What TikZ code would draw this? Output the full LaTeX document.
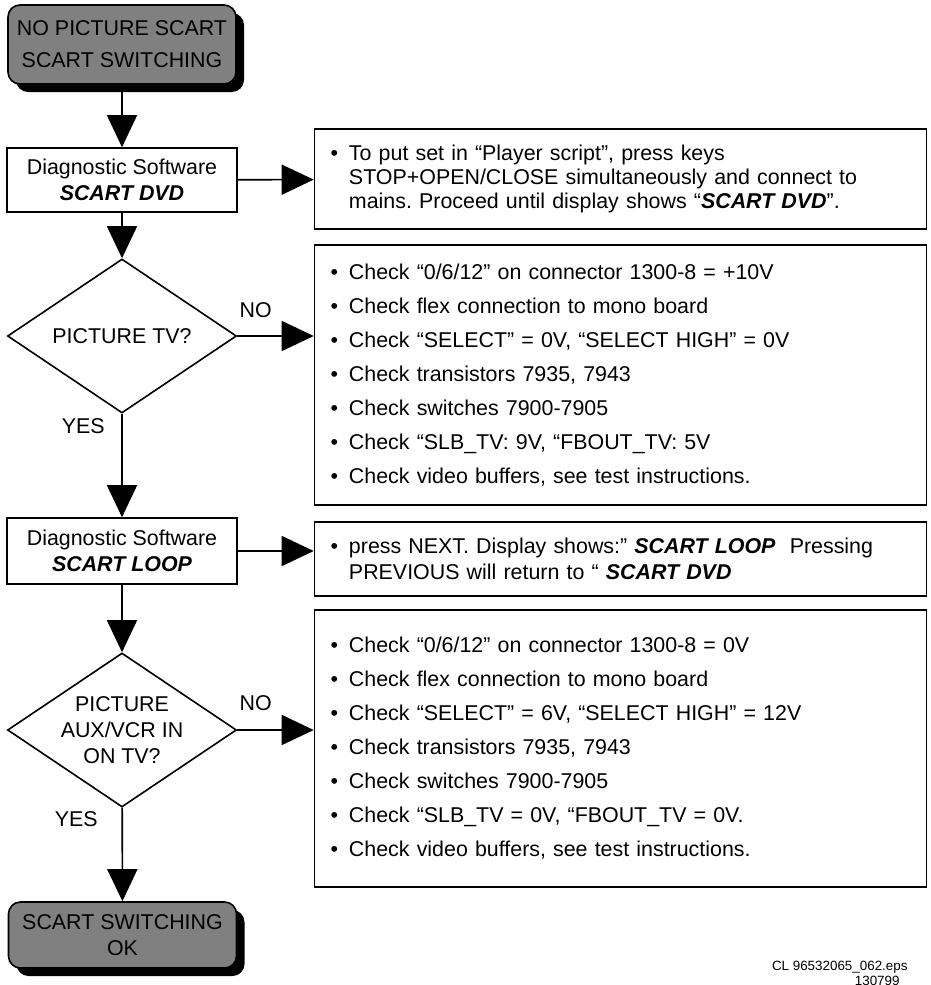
\documentclass[tikz,border=0pt]{standalone}
\usepackage{fontspec}
\setmainfont{Liberation Sans}
\usetikzlibrary{arrows.meta,positioning,shapes.geometric,shadows}
\frenchspacing
\newcommand{\noteitem}{\hspace{1.5pt}\textbullet\hspace{5.5pt}}
\newcommand{\noteindent}{\hspace{1.5pt}\phantom{\textbullet}\hspace{5.5pt}}
\tikzset{
 txt/.style={font=\fontsize{10.7}{13}\selectfont},
 flow/.style={line width=0.8pt,-{Triangle[length=16pt,width=15pt]}},
 terminal/.style={txt,draw,line width=0.8pt,rounded corners=6pt,fill=black!50,
  minimum width=114pt,align=center,inner sep=0pt,
  drop shadow={shadow xshift=4pt,shadow yshift=-4pt,fill=black,opacity=1}},
 process/.style={txt,draw,line width=0.8pt,minimum width=115pt,minimum height=32pt,
  align=center,inner sep=0pt},
 decision/.style={draw,line width=0.8pt,diamond,minimum width=114.5pt,
  minimum height=77pt,inner sep=0pt},
 qtext/.style={txt,align=center,inner sep=0pt},
 note/.style={draw,line width=0.8pt,text width=293pt,inner xsep=6.5pt,
  inner ysep=0pt,align=left},
 lbl/.style={txt,inner sep=0pt},
}
\begin{document}
\begin{tikzpicture}[x=0.5pt,y=-0.5pt]
 \useasboundingbox (0,0) rectangle (931,985);
 \node[terminal,minimum height=39.5pt,font=\fontsize{10.7}{16}\selectfont] (start) at (122,44.5)
  {NO PICTURE SCART\\SCART SWITCHING};
 \node[process] (diagA) at (122,180) {Diagnostic Software\\\textbf{\textit{SCART DVD}}};
 \node[note,minimum height=50pt,font=\fontsize{10.7}{12}\selectfont] (infoA) at (620.5,179)
  {\noteitem To put set in “Player script”, press keys\\
   \noteindent STOP+OPEN/CLOSE simultaneously and connect to\\
   \noteindent mains. Proceed until display shows “\textbf{\textit{SCART DVD}}”.};
 \node[decision,label={[qtext]center:PICTURE TV?}] (qTV) at (122,336) {};
 \node[note,minimum height=130pt,font=\fontsize{10.7}{17}\selectfont] (checkTV) at (620.5,375)
  {\noteitem Check “0/6/12” on connector 1300-8 = +10V\\
   \noteitem Check flex connection to mono board\\
   \noteitem Check “SELECT” = 0V, “SELECT HIGH” = 0V\\
   \noteitem Check transistors 7935, 7943\\
   \noteitem Check switches 7900-7905\\
   \noteitem Check “SLB\_TV: 9V, “FBOUT\_TV: 5V\\
   \noteitem Check video buffers, see test instructions.};
 \node[lbl,above right=9pt and 1pt of qTV.east] (noTV) {NO};
 \node[lbl,below left=2pt and 8.5pt of qTV.south] (yesTV) {YES};
 \node[process,minimum height=33pt] (diagB) at (122,551) {Diagnostic Software\\\textbf{\textit{SCART LOOP}}};
 \node[note,minimum height=37pt,font=\fontsize{10.7}{13}\selectfont] (infoB) at (620.5,559)
  {\noteitem press NEXT. Display shows:” \textbf{\textit{SCART LOOP}}\ \ Pressing\\
   \noteindent PREVIOUS will return to “ \textbf{\textit{SCART DVD}}};
 \node[decision,label={[qtext]center:PICTURE\\AUX/VCR IN\\ON TV?}] (qAUX) at (122,730) {};
 \node[note,minimum height=138.5pt,font=\fontsize{10.7}{17}\selectfont] (checkAUX) at (620.5,748.5)
  {\noteitem Check “0/6/12” on connector 1300-8 = 0V\\
   \noteitem Check flex connection to mono board\\
   \noteitem Check “SELECT” = 6V, “SELECT HIGH” = 12V\\
   \noteitem Check transistors 7935, 7943\\
   \noteitem Check switches 7900-7905\\
   \noteitem Check “SLB\_TV = 0V, “FBOUT\_TV = 0V.\\
   \noteitem Check video buffers, see test instructions.};
 \node[lbl,above right=9.5pt and 1pt of qAUX.east] (noAUX) {NO};
 \node[lbl,below left=1.5pt and 12pt of qAUX.south] (yesAUX) {YES};
 \node[terminal,minimum height=33pt] (finish) at (122.5,935) {SCART SWITCHING\\OK};
 \node[anchor=east,inner sep=0pt,font=\fontsize{6.7}{8}\selectfont] (fileref) at (908,967) {CL 96532065\_062.eps};
 \node[anchor=east,inner sep=0pt,font=\fontsize{6.7}{8}\selectfont] (dateref) at (900,981) {130799};
 \draw[flow] (start) -- (diagA);
 \draw[flow] (diagA) -- (infoA);
 \draw[flow] (diagA) -- (qTV);
 \draw[flow] (qTV.east) -- (qTV.east -| checkTV.west);
 \draw[flow] (qTV) -- (diagB);
 \draw[flow] (diagB.east) -- (diagB.east -| infoB.west);
 \draw[flow] (diagB) -- (qAUX);
 \draw[flow] (qAUX.east) -- (qAUX.east -| checkAUX.west);
 \draw[flow] (qAUX) -- (finish);
\end{tikzpicture}
\end{document}
